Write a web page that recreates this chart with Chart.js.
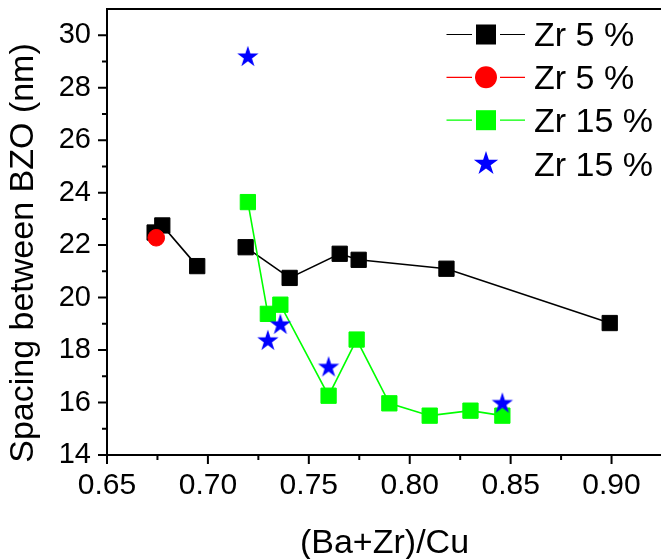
<!DOCTYPE html>
<html>
<head>
<meta charset="utf-8">
<script src="https://cdn.jsdelivr.net/npm/chart.js@4/dist/chart.umd.min.js"></script>
<style>
  html, body { margin: 0; padding: 0; background: #fff; overflow: hidden; width: 661px; height: 559px; }
  #wrap { width: 661px; height: 559px; overflow: hidden; position: relative; }
  #c { position: absolute; left: 0; top: 0; }
</style>
</head>
<body>
<div id="wrap"><canvas id="c" width="672" height="559"></canvas></div>
<script>
// (Ba+Zr)/Cu ratio against BZO spacing (nm); a null pair breaks the connecting line
const zr5LineX  = [0.6736, 0.6774, 0.6947, null, 0.7187, 0.7405, 0.7653, 0.7747, 0.8182, 0.8991];
const zr5LineY  = [22.48, 22.75, 21.20, null, 21.92, 20.75, 21.67, 21.44, 21.10, 19.03];
const zr5DotX   = [0.6744];
const zr5DotY   = [22.28];
const zr15LineX = [0.7198, 0.7297, 0.7359, 0.7598, 0.7737, 0.7899, 0.8099, 0.8301, 0.8459];
const zr15LineY = [23.64, 19.38, 19.73, 16.26, 18.40, 15.97, 15.50, 15.69, 15.50];
const zr15StarX = [0.7198, 0.7297, 0.7359, 0.7598, 0.8459];
const zr15StarY = [29.21, 18.39, 19.00, 17.38, 16.00];

const seriesLabels = ['Zr 5 %', 'Zr 5 %', 'Zr 15 %', 'Zr 15 %'];
const xTitle = '(Ba+Zr)/Cu';
const yTitle = 'Spacing between BZO (nm)';
const xMin = 0.65, xMax = 0.925, xStep = 0.025;
const yMin = 14, yMax = 31, yStep = 1;

const FONT = '"Liberation Sans", Arial, Helvetica, sans-serif';

function pairs(xs, ys) {
  return xs.map((x, i) => ({ x: x, y: ys[i] }));
}

// filled five-pointed star, centred on its bounding box
function starPath(ctx, cx, cy, R) {
  const r = R * 0.382;
  ctx.beginPath();
  for (let i = 0; i < 10; i++) {
    const rad = i % 2 === 0 ? R : r;
    const a = -Math.PI / 2 + i * Math.PI / 5;
    const px = cx + rad * Math.cos(a), py = cy + rad * Math.sin(a);
    if (i === 0) ctx.moveTo(px, py); else ctx.lineTo(px, py);
  }
  ctx.closePath();
}
function makeStar(size, R, color) {
  const cv = document.createElement('canvas');
  cv.width = size; cv.height = size;
  const g = cv.getContext('2d');
  g.fillStyle = color;
  starPath(g, size / 2, size / 2 + 0.0955 * R, R);
  g.fill();
  return cv;
}
const starImg = makeStar(26, 11.2, '#0000ff');

// frame, tick marks, axis titles and legend
const decor = {
  id: 'decor',
  afterDraw(chart) {
    const ctx = chart.ctx;
    const a = chart.chartArea;
    const xs = chart.scales.x, ys = chart.scales.y;
    ctx.save();
    ctx.strokeStyle = '#000';
    ctx.lineWidth = 2;
    ctx.beginPath();
    ctx.rect(a.left, a.top, a.right - a.left, a.bottom - a.top);
    ctx.stroke();

    ctx.lineWidth = 2;
    ctx.beginPath();
    xs.ticks.forEach(t => {
      const k = Math.round((t.value - xMin) / xStep);
      const px = xs.getPixelForValue(t.value);
      const len = k % 2 === 0 ? 9 : 5;
      ctx.moveTo(px, a.bottom);
      ctx.lineTo(px, a.bottom + len);
    });
    ys.ticks.forEach(t => {
      if (t.value >= yMax) return;
      const py = ys.getPixelForValue(t.value);
      const len = Math.round(t.value) % 2 === 0 ? 9 : 5;
      ctx.moveTo(a.left, py);
      ctx.lineTo(a.left - len, py);
    });
    ctx.stroke();

    // axis titles
    ctx.fillStyle = '#000';
    ctx.font = '34px ' + FONT;
    ctx.textAlign = 'center';
    ctx.textBaseline = 'alphabetic';
    ctx.fillText(xTitle, (a.left + a.right) / 2, 552.5);
    ctx.save();
    ctx.translate(33, 253);
    ctx.rotate(-Math.PI / 2);
    ctx.fillText(yTitle, 0, 0);
    ctx.restore();

    // legend
    const rows = [34.5, 77.3, 120.2, 162.5];
    const baselines = [46, 89.3, 131.7, 175.5];
    const mx = 486;
    chart.data.datasets.forEach((ds, i) => {
      const y = rows[i];
      if (ds.showLine !== false) {
        ctx.strokeStyle = ds.borderColor;
        ctx.lineWidth = 1.2;
        ctx.beginPath();
        ctx.moveTo(446.5, y); ctx.lineTo(472, y);
        ctx.moveTo(500, y); ctx.lineTo(525, y);
        ctx.stroke();
      }
      ctx.fillStyle = ds.pointBackgroundColor;
      if (ds.pointStyle === 'rect') {
        ctx.fillRect(mx - 10, y - 10, 20, 20);
      } else if (ds.pointStyle === 'circle') {
        ctx.beginPath();
        ctx.arc(mx, y, 11, 0, Math.PI * 2);
        ctx.fill();
      } else {
        starPath(ctx, mx, y + 0.0955 * 12.8, 12.8);
        ctx.fill();
      }
      ctx.fillStyle = '#000';
      ctx.textAlign = 'left';
      ctx.font = '34px ' + FONT;
      ctx.fillText(ds.label, 534, baselines[i]);
    });
    ctx.restore();
  }
};

new Chart(document.getElementById('c'), {
  type: 'scatter',
  data: {
    datasets: [
      {
        label: seriesLabels[0],
        data: pairs(zr5LineX, zr5LineY),
        showLine: true, spanGaps: false,
        borderColor: '#000000', borderWidth: 1.6,
        pointStyle: 'rect', pointRadius: 10.8, pointBorderWidth: 1,
        pointBackgroundColor: '#000000', pointBorderColor: '#000000',
        order: 3
      },
      {
        label: seriesLabels[1],
        data: pairs(zr5DotX, zr5DotY),
        showLine: true,
        borderColor: '#ff0000', borderWidth: 1.2,
        pointStyle: 'circle', pointRadius: 8.3, pointBorderWidth: 1,
        pointBackgroundColor: '#ff0000', pointBorderColor: '#ff0000',
        order: 1
      },
      {
        label: seriesLabels[2],
        data: pairs(zr15LineX, zr15LineY),
        showLine: true,
        borderColor: '#00ff00', borderWidth: 1.6,
        pointStyle: 'rect', pointRadius: 10.8, pointBorderWidth: 1,
        pointBackgroundColor: '#00ff00', pointBorderColor: '#00ff00',
        order: 2
      },
      {
        label: seriesLabels[3],
        data: pairs(zr15StarX, zr15StarY),
        showLine: false,
        borderColor: '#0000ff',
        pointStyle: starImg, pointRadius: 11,
        pointBackgroundColor: '#0000ff', pointBorderColor: '#0000ff',
        order: 0
      }
    ]
  },
  options: {
    responsive: false,
    animation: false,
    events: [],
    layout: { autoPadding: false, padding: { top: 9, right: 10, left: 0, bottom: 0 } },
    plugins: { legend: { display: false }, tooltip: { enabled: false } },
    scales: {
      x: {
        type: 'linear', min: xMin, max: xMax,
        border: { display: false },
        grid: { drawOnChartArea: false, tickColor: 'rgba(0,0,0,0)', tickLength: 9 },
        ticks: {
          stepSize: xStep, autoSkip: false, maxRotation: 0, padding: 4,
          color: '#000', font: { family: FONT, size: 30 },
          callback: v => (Math.round((v - xMin) / xStep) % 2 === 0 ? v.toFixed(2) : '')
        },
        afterFit: s => { s.height = 104; s.paddingLeft = 0; s.paddingRight = 0; }
      },
      y: {
        type: 'linear', min: yMin, max: yMax,
        border: { display: false },
        grid: { drawOnChartArea: false, tickColor: 'rgba(0,0,0,0)', tickLength: 9 },
        ticks: {
          stepSize: yStep, autoSkip: false, padding: 7,
          color: '#000', font: { family: FONT, size: 29 },
          callback: v => (Math.round(v) % 2 === 0 && v < yMax ? String(v) : '')
        },
        afterFit: s => { s.width = 107; s.paddingTop = 0; s.paddingBottom = 0; }
      }
    }
  },
  plugins: [decor]
});
</script>
</body>
</html>
